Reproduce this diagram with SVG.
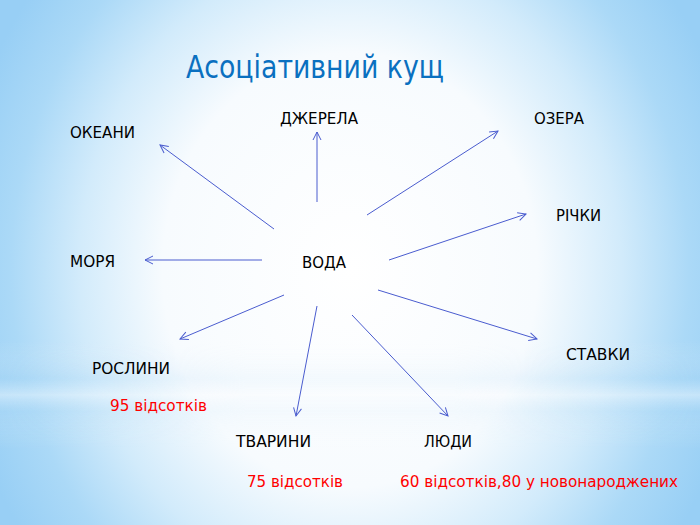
<svg xmlns="http://www.w3.org/2000/svg" width="700" height="525" viewBox="0 0 700 525">
<defs>
<radialGradient id="bg" cx="350" cy="270" r="420" gradientUnits="userSpaceOnUse" gradientTransform="translate(350 270) scale(0.95 1.1) translate(-350 -270)">
<stop offset="0" stop-color="#ffffff"/>
<stop offset="0.47" stop-color="#f7fbfe"/>
<stop offset="0.68" stop-color="#d2ebfb"/>
<stop offset="0.85" stop-color="#abd9f7"/>
<stop offset="1" stop-color="#98cff5"/>
</radialGradient>
<linearGradient id="band" x1="0" y1="340" x2="0" y2="450" gradientUnits="userSpaceOnUse">
<stop offset="0" stop-color="#ffffff" stop-opacity="0"/>
<stop offset="0.35" stop-color="#a8d6f5" stop-opacity="0.3"/>
<stop offset="0.5" stop-color="#ffffff" stop-opacity="0.4"/>
<stop offset="0.65" stop-color="#b3dbf6" stop-opacity="0.25"/>
<stop offset="1" stop-color="#ffffff" stop-opacity="0"/>
</linearGradient>
<linearGradient id="bandMask" x1="0" y1="0" x2="700" y2="0" gradientUnits="userSpaceOnUse">
<stop offset="0" stop-color="#fff" stop-opacity="1"/>
<stop offset="0.35" stop-color="#fff" stop-opacity="0.3"/>
<stop offset="0.65" stop-color="#fff" stop-opacity="0.3"/>
<stop offset="1" stop-color="#fff" stop-opacity="1"/>
</linearGradient>
<mask id="m"><rect width="700" height="525" fill="url(#bandMask)"/></mask>
<marker id="ah" markerWidth="12" markerHeight="12" refX="9" refY="5" orient="auto" markerUnits="userSpaceOnUse">
<path d="M1,1 L9,5 L1,9" fill="none" stroke="#4a5ccf" stroke-width="1"/>
</marker>
</defs>
<style>
.lbl{font-family:"DejaVu Sans Condensed","DejaVu Sans",sans-serif;font-size:16px;fill:#000}
.red{font-family:"DejaVu Sans Condensed","DejaVu Sans",sans-serif;font-size:16px;fill:#ff0000}
.title{font-family:"DejaVu Sans Condensed","DejaVu Sans",sans-serif;font-size:32px;fill:#0a70c0}
.arr{stroke:#4a5ccf;stroke-width:1;fill:none;marker-end:url(#ah)}
</style>
<rect width="700" height="525" fill="url(#bg)"/>
<rect width="700" height="525" fill="url(#band)" mask="url(#m)"/>
<text class="title" x="186" y="78" textLength="258" lengthAdjust="spacingAndGlyphs">Асоціативний кущ</text>
<g id="connectors">
<line class="arr" x1="274" y1="229" x2="160" y2="145"/>
<line class="arr" x1="317" y1="202" x2="317" y2="132"/>
<line class="arr" x1="367" y1="215" x2="498" y2="131"/>
<line class="arr" x1="389" y1="260" x2="526" y2="214"/>
<line class="arr" x1="262" y1="260" x2="145" y2="260"/>
<line class="arr" x1="284" y1="295" x2="180" y2="339"/>
<line class="arr" x1="317" y1="306" x2="296" y2="416"/>
<line class="arr" x1="352" y1="315" x2="448" y2="416"/>
<line class="arr" x1="378" y1="290" x2="537" y2="339"/>
</g>
<g id="voda"><text class="lbl" x="302" y="268" textLength="44" lengthAdjust="spacingAndGlyphs">ВОДА</text></g>
<g id="okeany"><text class="lbl" x="70" y="138" textLength="65" lengthAdjust="spacingAndGlyphs">ОКЕАНИ</text></g>
<g id="dzherela"><text class="lbl" x="280" y="124" textLength="78" lengthAdjust="spacingAndGlyphs">ДЖЕРЕЛА</text></g>
<g id="ozera"><text class="lbl" x="534" y="124" textLength="50" lengthAdjust="spacingAndGlyphs">ОЗЕРА</text></g>
<g id="richky"><text class="lbl" x="556" y="221" textLength="45" lengthAdjust="spacingAndGlyphs">РІЧКИ</text></g>
<g id="morya"><text class="lbl" x="70" y="267" textLength="45" lengthAdjust="spacingAndGlyphs">МОРЯ</text></g>
<g id="roslyny"><text class="lbl" x="92" y="374" textLength="78" lengthAdjust="spacingAndGlyphs">РОСЛИНИ</text>
<text class="red" x="110" y="411" textLength="97" lengthAdjust="spacingAndGlyphs">95 відсотків</text></g>
<g id="stavky"><text class="lbl" x="566" y="360" textLength="64" lengthAdjust="spacingAndGlyphs">СТАВКИ</text></g>
<g id="tvaryny"><text class="lbl" x="236" y="447" textLength="75" lengthAdjust="spacingAndGlyphs">ТВАРИНИ</text>
<text class="red" x="247" y="487" textLength="96" lengthAdjust="spacingAndGlyphs">75 відсотків</text></g>
<g id="lyudy"><text class="lbl" x="424" y="447" textLength="48" lengthAdjust="spacingAndGlyphs">ЛЮДИ</text>
<text class="red" x="400" y="487" textLength="278" lengthAdjust="spacingAndGlyphs">60 відсотків,80 у новонароджених</text></g>
</svg>
